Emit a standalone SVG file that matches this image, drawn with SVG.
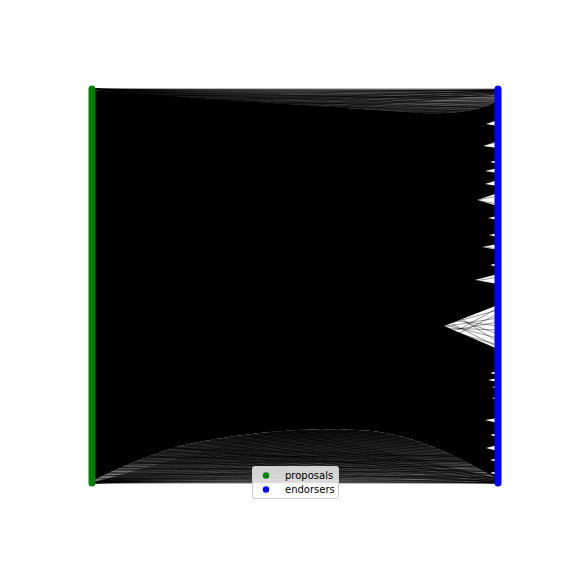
<svg xmlns="http://www.w3.org/2000/svg" width="576" height="576" viewBox="0 0 576 576">
<defs>
<linearGradient id="gt" gradientUnits="userSpaceOnUse" x1="0" y1="89" x2="0" y2="118">
<stop offset="0" stop-color="#000" stop-opacity="0.25"/>
<stop offset="1" stop-color="#000" stop-opacity="0.95"/>
</linearGradient>
<linearGradient id="gb" gradientUnits="userSpaceOnUse" x1="0" y1="428" x2="0" y2="483">
<stop offset="0" stop-color="#000" stop-opacity="0.97"/>
<stop offset="0.6" stop-color="#000" stop-opacity="0.8"/>
<stop offset="1" stop-color="#000" stop-opacity="0.35"/>
</linearGradient>
</defs>
<style>
.e path{stroke:#000;stroke-width:1;stroke-opacity:0.5;fill:none}
.g path{stroke:#000;stroke-width:1;stroke-opacity:0.4;fill:none}
.w{fill:#fff;stroke:none}
.lt{font-family:"DejaVu Sans",sans-serif;font-size:10px;fill:#000}
</style>
<rect width="576" height="576" fill="#fff"/>
<g id="connectors">
<path d="M92,90 C180,97 300,105 420,113 C460,115 490,108 498,100 L498,479 C470,464 430,440 380,432 C330,426 250,430 180,446 C140,458 110,472 92,481 Z" fill="#000"/>
<path d="M92,89 L498,89 L498,100 C490,108 460,115 420,113 C300,105 180,97 92,90 Z" fill="url(#gt)"/>
<path d="M92,481 C110,472 140,458 180,446 C250,430 330,426 380,432 C430,440 470,464 498,479 L498,483 L92,483 Z" fill="url(#gb)"/>
<g class="e">
<path d="M92,89 L498,89"/><path d="M92,89 L498,91"/><path d="M92,89 L498,93"/><path d="M92,89 L498,95"/><path d="M92,89 L498,97"/><path d="M92,89 L498,99"/><path d="M92,89 L498,101"/><path d="M92,89 L498,103"/><path d="M92,89 L498,105"/><path d="M92,89 L498,107"/><path d="M92,89 L498,109"/><path d="M92,89 L498,111"/><path d="M92,89 L498,113"/><path d="M92,89 L498,115"/><path d="M92,89 L498,117"/><path d="M92,89 L498,119"/><path d="M92,89 L498,121"/><path d="M92,89 L498,124"/><path d="M92,89 L498,127"/><path d="M92,89 L498,130"/><path d="M92,89 L498,133"/><path d="M92,89 L498,136"/><path d="M92,89 L498,140"/>
<path d="M92,90 L498,90"/><path d="M92,92 L498,90"/><path d="M92,94 L498,90"/><path d="M92,96 L498,90"/><path d="M92,98 L498,90"/><path d="M92,100 L498,91"/><path d="M92,102 L498,91"/><path d="M92,104 L498,91"/><path d="M92,106 L498,91"/><path d="M92,108 L498,92"/><path d="M92,111 L498,92"/><path d="M92,114 L498,92"/><path d="M92,117 L498,93"/><path d="M92,120 L498,93"/><path d="M92,124 L498,94"/><path d="M92,128 L498,94"/>
<path d="M92,91 L498,100"/><path d="M92,93 L498,104"/><path d="M92,95 L498,97"/><path d="M92,97 L498,108"/><path d="M92,99 L498,112"/><path d="M92,101 L498,96"/><path d="M92,103 L498,118"/><path d="M92,105 L498,102"/><path d="M92,107 L498,114"/><path d="M92,110 L498,106"/>
<path d="M92,483 L498,483"/><path d="M92,483 L498,480"/><path d="M92,483 L498,477"/><path d="M92,483 L498,474"/><path d="M92,483 L498,471"/><path d="M92,483 L498,468"/><path d="M92,483 L498,465"/><path d="M92,483 L498,462"/><path d="M92,483 L498,459"/><path d="M92,483 L498,456"/><path d="M92,483 L498,453"/><path d="M92,483 L498,450"/><path d="M92,483 L498,446"/><path d="M92,483 L498,442"/><path d="M92,483 L498,438"/><path d="M92,483 L498,434"/><path d="M92,483 L498,430"/><path d="M92,483 L498,425"/><path d="M92,483 L498,420"/><path d="M92,483 L498,414"/><path d="M92,483 L498,408"/><path d="M92,483 L498,402"/><path d="M92,483 L498,395"/><path d="M92,483 L498,388"/><path d="M92,483 L498,380"/><path d="M92,483 L498,372"/>
<path d="M92,481 L498,483"/><path d="M92,478 L498,483"/><path d="M92,475 L498,483"/><path d="M92,472 L498,483"/><path d="M92,469 L498,483"/><path d="M92,466 L498,482"/><path d="M92,463 L498,482"/><path d="M92,460 L498,482"/><path d="M92,456 L498,482"/><path d="M92,452 L498,482"/><path d="M92,448 L498,482"/><path d="M92,444 L498,481"/><path d="M92,439 L498,481"/><path d="M92,434 L498,481"/><path d="M92,428 L498,481"/><path d="M92,422 L498,480"/><path d="M92,415 L498,480"/><path d="M92,408 L498,480"/><path d="M92,400 L498,479"/><path d="M92,392 L498,479"/><path d="M92,384 L498,479"/>
<path d="M92,479 L498,476"/><path d="M92,476 L498,470"/><path d="M92,473 L498,478"/><path d="M92,470 L498,466"/><path d="M92,467 L498,474"/><path d="M92,464 L498,460"/><path d="M92,461 L498,472"/><path d="M92,458 L498,455"/><path d="M92,454 L498,468"/><path d="M92,450 L498,463"/><path d="M92,446 L498,458"/><path d="M92,441 L498,475"/>
</g>
<g class="w">
<polygon points="498,120 486,124 498,126"/>
<polygon points="498,141 483,146 498,148"/>
<polygon points="498,160 490,162 498,164"/>
<polygon points="498,168 485,171 498,173"/>
<polygon points="498,180 485,184 498,186"/>
<polygon points="498,193 477,200 498,206"/>
<polygon points="498,216 488,218 498,220"/>
<polygon points="498,233 489,235 498,237"/>
<polygon points="498,244 482,247 498,250"/>
<polygon points="498,263 490,265 498,267"/>
<polygon points="498,274 475,280 498,284"/>
<polygon points="498,305 444,326 498,349"/>
<polygon points="498,371 490,373 498,375"/>
<polygon points="498,378 488,380 498,382"/>
<polygon points="498,386 492,387 498,389"/>
<polygon points="498,397 492,398 498,400"/>
<polygon points="498,418 485,420 498,423"/>
<polygon points="498,433 490,435 498,437"/>
<polygon points="498,445 486,448 498,451"/>
<polygon points="498,458 490,460 498,462"/>
<polygon points="498,471 490,473 498,475"/>
</g>
<g class="g">
<path d="M440,326 L498,310"/><path d="M442,327 L498,318"/><path d="M445,328 L498,330"/><path d="M446,325 L498,338"/><path d="M444,329 L498,345"/><path d="M450,320 L498,326"/><path d="M455,335 L498,314"/><path d="M460,318 L498,342"/><path d="M448,331 L498,322"/><path d="M452,324 L498,347"/><path d="M458,330 L498,308"/><path d="M465,322 L498,334"/>
<path d="M470,282 L498,277"/><path d="M472,201 L498,196"/><path d="M475,200 L498,204"/><path d="M478,246 L498,249"/><path d="M480,146 L498,142"/>
</g>
</g>
<g id="proposals">
<line x1="92" y1="89" x2="92" y2="483" stroke="#008000" stroke-width="7" stroke-linecap="round"/>
</g>
<g id="endorsers">
<line x1="498" y1="89" x2="498" y2="483" stroke="#0000ff" stroke-width="7" stroke-linecap="round"/>
</g>
<g id="legend">
<rect x="252.5" y="466.5" width="86" height="32" rx="2" fill="#fff" fill-opacity="0.8" stroke="#cccccc"/>
<circle cx="266" cy="475.5" r="3.2" fill="#008000"/>
<circle cx="266" cy="489.5" r="3.2" fill="#0000ff"/>
<text class="lt" x="285" y="479">proposals</text>
<text class="lt" x="285" y="493">endorsers</text>
</g>
</svg>
